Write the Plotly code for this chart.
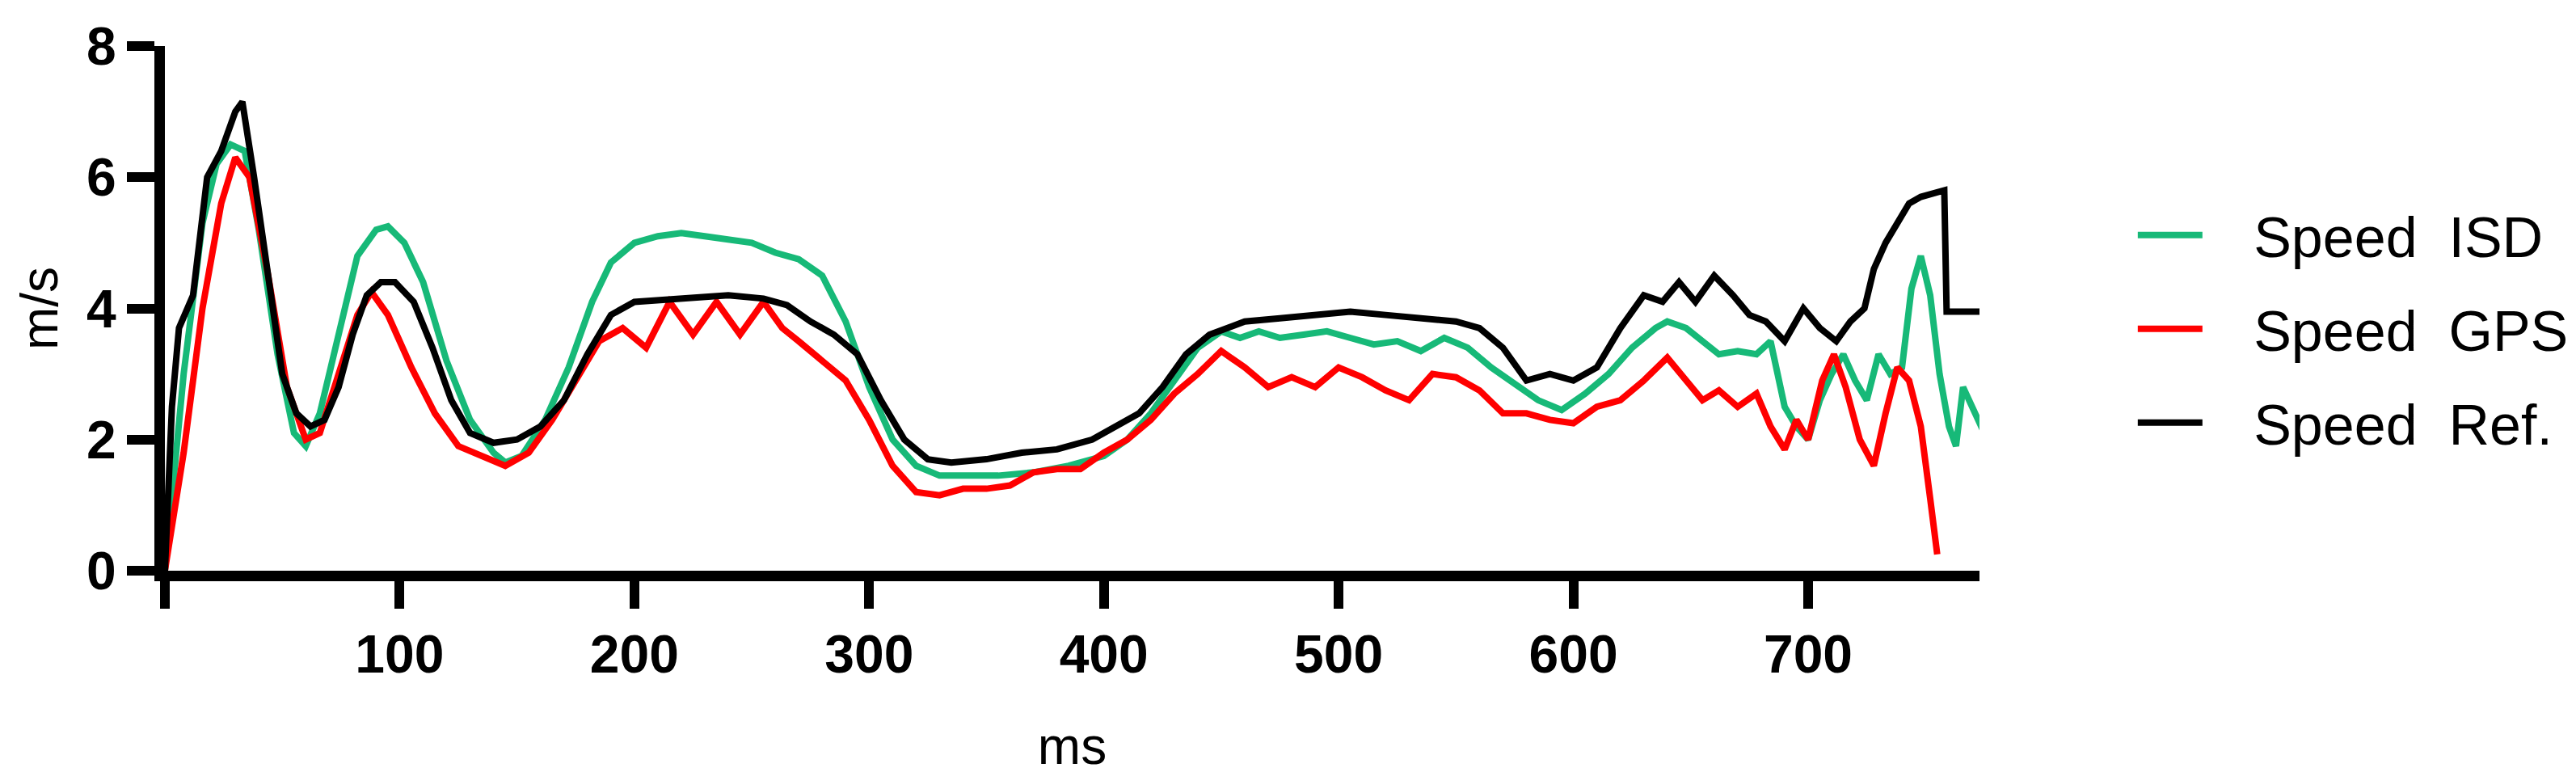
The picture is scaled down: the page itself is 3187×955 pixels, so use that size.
import plotly.graph_objects as go

isd_t = [0, 8, 16, 22, 28, 34, 40, 48, 55, 60, 66, 74, 82, 90, 95, 102, 110, 120, 130, 140, 145, 152, 162, 172, 182, 190, 200, 210, 220, 230, 240, 250, 260, 270, 280, 290, 300, 310, 320, 330, 340, 355, 370, 385, 400, 410, 420, 430, 440, 450, 458, 466, 475, 485, 495, 505, 515, 525, 535, 545, 555, 565, 575, 585, 595, 605, 615, 625, 635, 640, 648, 655, 662, 670, 678, 684, 690, 695, 700, 705, 710, 715, 720, 725, 730, 735, 740, 744, 748, 752, 756, 760, 763, 766, 770, 775]
isd_v = [0, 3.0, 5.3, 6.2, 6.5, 6.4, 5.2, 3.3, 2.1, 1.9, 2.4, 3.6, 4.8, 5.2, 5.25, 5.0, 4.4, 3.2, 2.3, 1.8, 1.65, 1.75, 2.3, 3.1, 4.1, 4.7, 5.0, 5.1, 5.15, 5.1, 5.05, 5.0, 4.85, 4.75, 4.5, 3.8, 2.8, 2.0, 1.6, 1.45, 1.45, 1.45, 1.5, 1.6, 1.75, 2.0, 2.4, 2.9, 3.4, 3.65, 3.55, 3.65, 3.55, 3.6, 3.65, 3.55, 3.45, 3.5, 3.35, 3.55, 3.4, 3.1, 2.85, 2.6, 2.45, 2.7, 3.0, 3.4, 3.7, 3.8, 3.7, 3.5, 3.3, 3.35, 3.3, 3.5, 2.5, 2.2, 2.0, 2.6, 3.0, 3.3, 2.9, 2.6, 3.3, 3.0, 3.1, 4.3, 4.8, 4.2, 3.0, 2.2, 1.9, 2.8, 2.5, 2.1]

gps_t = [0, 8, 16, 24, 30, 36, 44, 52, 60, 66, 74, 82, 88, 95, 105, 115, 125, 135, 145, 155, 165, 175, 185, 195, 205, 215, 225, 235, 245, 255, 263, 270, 280, 290, 300, 310, 320, 330, 340, 350, 360, 370, 380, 390, 400, 410, 420, 430, 440, 450, 460, 470, 480, 490, 500, 510, 520, 530, 540, 550, 560, 570, 580, 590, 600, 610, 620, 630, 640, 648, 655, 662, 670, 678, 684, 690, 695, 700, 706, 711, 716, 722, 728, 733, 738, 743, 748, 752, 755]
gps_v = [0, 1.8, 4.0, 5.6, 6.3, 6.0, 4.5, 2.8, 2.0, 2.1, 3.0, 3.9, 4.25, 3.9, 3.1, 2.4, 1.9, 1.75, 1.6, 1.8, 2.3, 2.9, 3.5, 3.7, 3.4, 4.1, 3.6, 4.1, 3.6, 4.1, 3.7, 3.5, 3.2, 2.9, 2.3, 1.6, 1.2, 1.15, 1.25, 1.25, 1.3, 1.5, 1.55, 1.55, 1.8, 2.0, 2.3, 2.7, 3.0, 3.35, 3.1, 2.8, 2.95, 2.8, 3.1, 2.95, 2.75, 2.6, 3.0, 2.95, 2.75, 2.4, 2.4, 2.3, 2.25, 2.5, 2.6, 2.9, 3.25, 2.9, 2.6, 2.75, 2.5, 2.7, 2.2, 1.85, 2.3, 2.0, 2.9, 3.3, 2.8, 2.0, 1.6, 2.4, 3.1, 2.9, 2.2, 1.1, 0.25]

ref_t = [0, 3, 6, 12, 18, 24, 30, 33, 38, 44, 50, 56, 62, 68, 74, 80, 86, 92, 98, 106, 114, 122, 130, 140, 150, 160, 170, 180, 190, 200, 220, 240, 255, 265, 275, 285, 295, 305, 315, 325, 335, 350, 365, 380, 395, 405, 415, 425, 435, 445, 460, 475, 490, 505, 520, 535, 550, 560, 570, 580, 590, 600, 610, 620, 630, 638, 645, 652, 660, 668, 675, 682, 690, 698, 705, 712, 718, 724, 728, 733, 738, 743, 748, 752, 758, 759, 765, 775]
ref_v = [0, 2.5, 3.7, 4.2, 6.0, 6.4, 7.0, 7.15, 6.0, 4.5, 3.0, 2.4, 2.2, 2.3, 2.8, 3.6, 4.2, 4.4, 4.4, 4.1, 3.4, 2.6, 2.1, 1.95, 2.0, 2.2, 2.6, 3.3, 3.9, 4.1, 4.15, 4.2, 4.15, 4.05, 3.8, 3.6, 3.3, 2.6, 2.0, 1.7, 1.65, 1.7, 1.8, 1.85, 2.0, 2.2, 2.4, 2.8, 3.3, 3.6, 3.8, 3.85, 3.9, 3.95, 3.9, 3.85, 3.8, 3.7, 3.4, 2.9, 3.0, 2.9, 3.1, 3.7, 4.2, 4.1, 4.4, 4.1, 4.5, 4.2, 3.9, 3.8, 3.5, 4.0, 3.7, 3.5, 3.8, 4.0, 4.6, 5.0, 5.3, 5.6, 5.7, 5.75, 5.8, 3.95, 3.95, 3.95]

x_tick_vals = [0, 100, 200, 300, 400, 500, 600, 700]
x_tick_text = ["", "100", "200", "300", "400", "500", "600", "700"]
y_tick_vals = [0, 2, 4, 6, 8]

fig = go.Figure()
fig.add_trace(go.Scatter(x=isd_t, y=isd_v, mode="lines", name="   Speed  ISD", legendgroup="a",
                         line=dict(color="#17b978", width=8)))
fig.add_trace(go.Scatter(x=gps_t, y=gps_v, mode="lines", name="   Speed  GPS", legendgroup="b",
                         line=dict(color="#ff0000", width=8)))
fig.add_trace(go.Scatter(x=ref_t, y=ref_v, mode="lines", name="   Speed  Ref.", legendgroup="c",
                         line=dict(color="#000000", width=8)))

fig.update_layout(
    width=3187, height=955,
    paper_bgcolor="white", plot_bgcolor="white",
    margin=dict(l=196, r=725, t=47, b=238),
    font=dict(family="Liberation Sans, Arial", color="black"),
    legend=dict(x=1.085, y=0.72, xanchor="left", yanchor="top",
                font=dict(size=70), itemwidth=80, tracegroupgap=22,
                traceorder="grouped", bgcolor="rgba(0,0,0,0)"),
    xaxis=dict(range=[0, 773], tickvals=x_tick_vals, ticktext=x_tick_text,
               showline=True, linewidth=13, linecolor="black", ticks="outside",
               ticklen=34, tickwidth=12, tickcolor="black", showgrid=False, zeroline=False,
               tickfont=dict(size=66, family="Liberation Sans, Arial", weight="bold"),
               title=dict(text="ms", font=dict(size=64), standoff=60)),
    yaxis=dict(range=[0, 8], tickvals=y_tick_vals,
               showline=True, linewidth=13, linecolor="black", ticks="outside",
               ticklen=34, tickwidth=12, tickcolor="black", showgrid=False, zeroline=False,
               tickfont=dict(size=66, family="Liberation Sans, Arial", weight="bold"),
               title=dict(text="m/s", font=dict(size=64), standoff=20)),
)
fig.write_html("out.html")
